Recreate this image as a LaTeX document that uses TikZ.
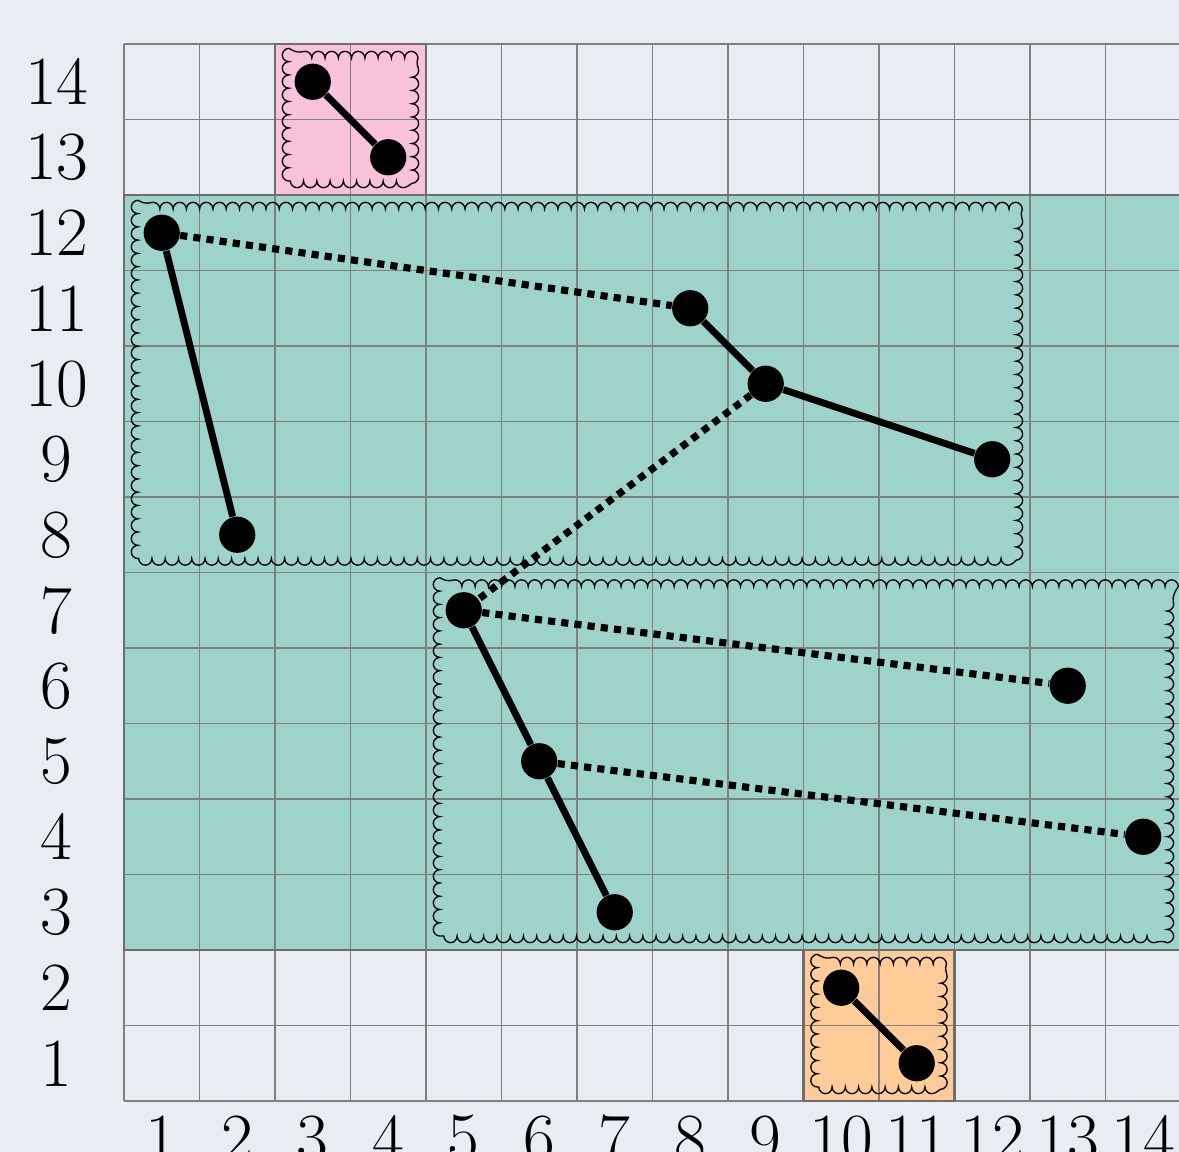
\documentclass[tikz,border=0pt]{standalone}
\usetikzlibrary{decorations.pathmorphing}
\definecolor{bgc}{RGB}{232,236,243}
\definecolor{pinkc}{RGB}{247,194,218}
\definecolor{tealc}{RGB}{158,211,204}
\definecolor{orangec}{RGB}{255,203,152}
\definecolor{gridc}{RGB}{128,128,128}
\definecolor{borderc}{RGB}{110,110,110}
\tikzset{
  gridline/.style={draw=gridc, line width=0.4pt},
  regionborder/.style={draw=borderc, line width=0.9pt},
  bumpbox/.style={draw=black, line width=0.5pt, decorate, decoration={bumps}},
  dot/.style={circle, fill=black, inner sep=0pt, minimum size=0.48cm},
  solidedge/.style={draw=black, line width=2.6pt},
  dottededge/.style={draw=black, line width=2.7pt, dash pattern=on 2.7pt off 2.3pt},
  lab/.style={inner sep=0pt, font=\fontsize{26}{31}\selectfont}
}
\begin{document}
\begin{tikzpicture}[x=1cm,y=1cm]
\useasboundingbox[fill=bgc] (-1.142,-0.175) rectangle (14.474,15.083);
\clip (-1.142,-0.175) rectangle (14.474,15.083);
% region fills
\fill[pinkc] (2.5,12.5) rectangle (4.5,14.5);
\fill[tealc] (0.5,2.5) rectangle (14.5,12.5);
\fill[orangec] (9.5,0.5) rectangle (11.5,2.5);
% grid
\foreach \i in {0,...,14} {
  \draw[gridline] (\i+0.5,0.5) -- (\i+0.5,14.5);
  \draw[gridline] (0.5,\i+0.5) -- (14.5,\i+0.5);
}
% region borders
\draw[regionborder] (2.5,12.5) rectangle (4.5,14.5);
\draw[regionborder] (0.5,2.5) rectangle (14.5,12.5);
\draw[regionborder] (9.5,0.5) rectangle (11.5,2.5);
% bumpy boxes (clockwise so bumps face outward)
\def\d{0.185}
\draw[bumpbox] (2.5+\d,12.5+\d) -- (2.5+\d,14.5-\d) -- (4.5-\d,14.5-\d) -- (4.5-\d,12.5+\d) -- cycle;
\draw[bumpbox] (0.5+\d,7.5+\d) -- (0.5+\d,12.5-\d) -- (12.5-\d,12.5-\d) -- (12.5-\d,7.5+\d) -- cycle;
\draw[bumpbox] (4.5+\d,2.5+\d) -- (4.5+\d,7.5-\d) -- (14.5-\d,7.5-\d) -- (14.5-\d,2.5+\d) -- cycle;
\draw[bumpbox] (9.5+\d,0.5+\d) -- (9.5+\d,2.5-\d) -- (11.5-\d,2.5-\d) -- (11.5-\d,0.5+\d) -- cycle;
% nodes
\node[dot] (a1) at (3,14) {};
\node[dot] (a2) at (4,13) {};
\node[dot] (b1) at (1,12) {};
\node[dot] (b2) at (2,8) {};
\node[dot] (b3) at (8,11) {};
\node[dot] (b4) at (9,10) {};
\node[dot] (b5) at (12,9) {};
\node[dot] (c1) at (5,7) {};
\node[dot] (c2) at (6,5) {};
\node[dot] (c3) at (7,3) {};
\node[dot] (c4) at (13,6) {};
\node[dot] (c5) at (14,4) {};
\node[dot] (d1) at (10,2) {};
\node[dot] (d2) at (11,1) {};
% edges
\draw[solidedge] (a1) -- (a2);
\draw[solidedge] (b1) -- (b2);
\draw[solidedge] (b3) -- (b4);
\draw[solidedge] (b4) -- (b5);
\draw[dottededge] (b1) -- (b3);
\draw[dottededge] (b4) -- (c1);
\draw[solidedge] (c1) -- (c2);
\draw[solidedge] (c2) -- (c3);
\draw[dottededge] (c1) -- (c4);
\draw[dottededge] (c2) -- (c5);
\draw[solidedge] (d1) -- (d2);
% labels
\foreach \i in {1,...,14} {
  \node[lab] (ylab\i) at (-0.39,\i) {\i};
  \node[lab] (xlab\i) at (\i,0) {\i};
}
\end{tikzpicture}
\end{document}
